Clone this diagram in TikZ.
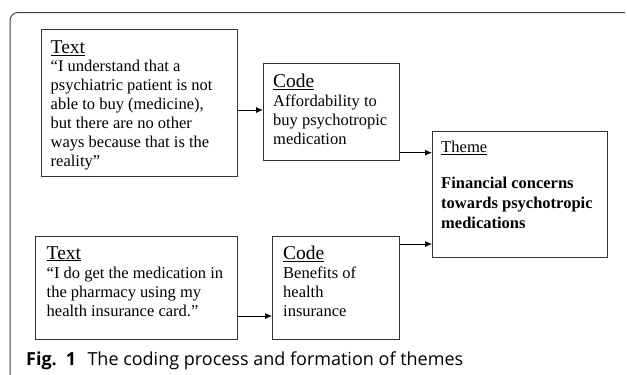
\documentclass[tikz,border=0pt]{standalone}
\usepackage{fontspec}
\setmainfont{Liberation Serif}
\newfontfamily\capfont{Open Sans}
\usetikzlibrary{arrows.meta}

% text blocks are placed at the baseline of their last line
\tikzset{
  box/.style={draw=black!80, line width=0.9pt, inner sep=0pt, anchor=north west},
  head/.style={anchor=base west, inner sep=0pt, font=\fontsize{19.5}{20}\selectfont},
  body/.style={anchor=base west, inner sep=0pt, align=left, font=\fontsize{16.5}{19}\selectfont},
  themebody/.style={anchor=base west, inner sep=0pt, align=left, font=\fontsize{16.5}{20}\selectfont\bfseries},
  link/.style={draw=black, line width=0.9pt, -{Latex[length=7pt,width=6pt]}},
  frame/.style={draw=black!75, line width=1pt, rounded corners=8pt},
  captext/.style={anchor=base west, inner sep=0pt, font=\capfont\fontsize{18}{20}\selectfont}
}

\begin{document}
\begin{tikzpicture}[x=1pt, y=-1pt]
\useasboundingbox (0,0) rectangle (627,375);

% panel frame: top and left edges with a rounded corner
\draw[frame] (10,375) -- (10,12.5) -- (625,12.5);

% boxes
\node[box, minimum width=196pt, minimum height=147pt] (t1) at (41,29) {};
\node[box, minimum width=136pt, minimum height=97pt] (c1) at (263,63) {};
\node[box, minimum width=175pt, minimum height=126pt] (th) at (432,131) {};
\node[box, minimum width=202pt, minimum height=103pt] (t2) at (35,236) {};
\node[box, minimum width=127pt, minimum height=103pt] (c2) at (272,236) {};

% first quote
\node[head] (t1h) at (50.5,53.3) {\underline{Text}};
\node[body] (t1b) at (50.5,166.7) {``I understand that a\\psychiatric patient is not\\able to buy (medicine),\\but there are no other\\ways because that is the\\reality''};

% first code
\node[head] (c1h) at (273,87.3) {\underline{Code}};
\node[body] (c1b) at (273,144) {Affordability to\\buy psychotropic\\medication};

% theme
\node[anchor=base west, inner sep=0pt, font=\fontsize{16.6}{20}\selectfont] (thh) at (441,152.3) {\underline{Theme}};
\node[themebody] (thb) at (441,228.3) {Financial concerns\\towards psychotropic\\medications};

% second quote
\node[head] (t2h) at (46.5,259) {\underline{Text}};
\node[body] (t2b) at (46.5,316.5) {``I do get the medication in\\the pharmacy using my\\health insurance card.''};

% second code
\node[head] (c2h) at (283,259.3) {\underline{Code}};
\node[body] (c2b) at (283,316.5) {Benefits of\\health\\insurance};

% connectors
\draw[link] (t1.east |- 0,110) -- (c1.west |- 0,110);
\draw[link] (c1.east |- 0,152.7) -- (th.west |- 0,152.7);
\draw[link] (t2.east |- 0,316) -- (c2.west |- 0,316);
\draw[link] (c2.east |- 0,244) -- (th.west |- 0,244);

% caption
\node[captext] (capnum) at (26,365.7) {\textbf{Fig.\hspace{0.5em}1}};
\node[captext] (captxt) at (87.3,365.7) {The coding process and formation of themes};
\end{tikzpicture}
\end{document}
